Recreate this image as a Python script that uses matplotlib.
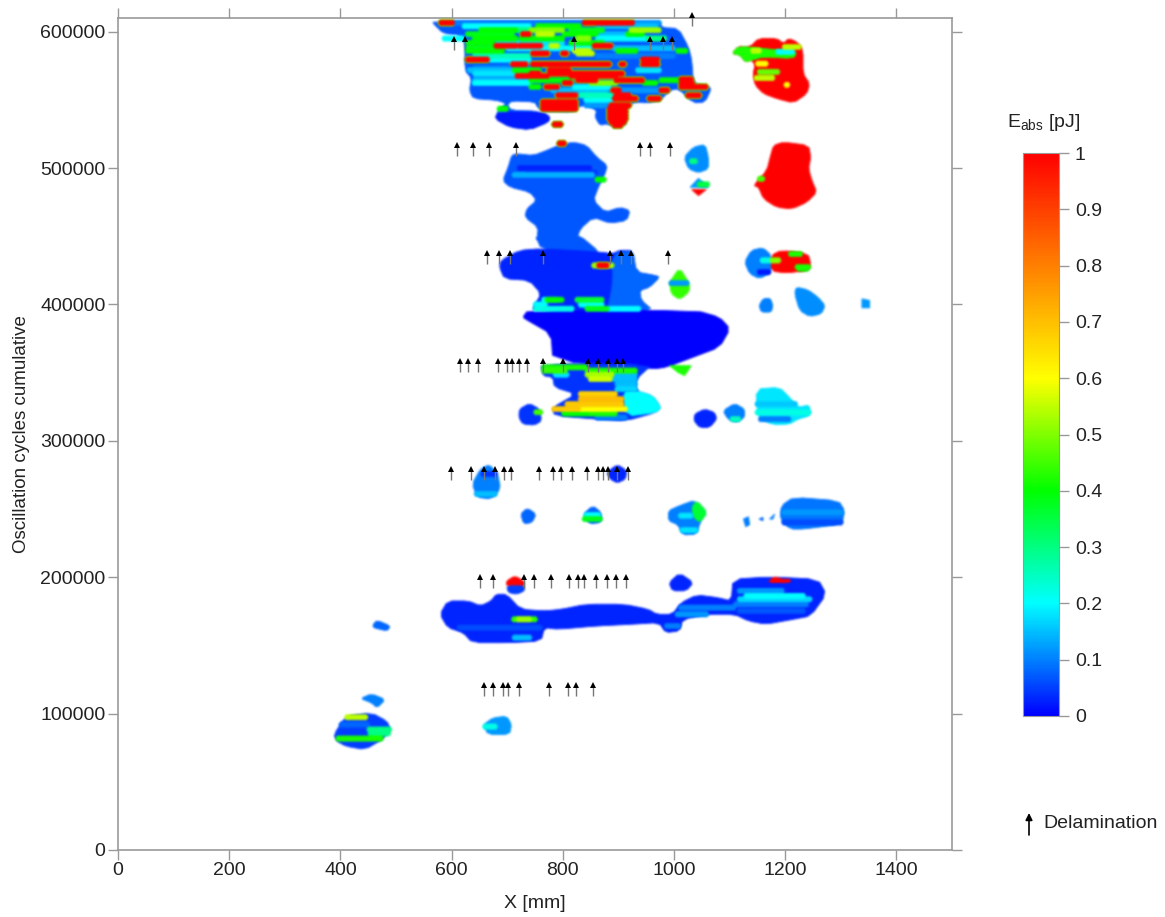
import matplotlib
matplotlib.use('Agg')
import numpy as np
import matplotlib.pyplot as plt
from matplotlib.collections import PolyCollection
from matplotlib.colors import LinearSegmentedColormap, Normalize
from matplotlib.cm import ScalarMappable

plt.rcParams['font.family'] = ['Liberation Sans', 'DejaVu Sans']
plt.rcParams['mathtext.default'] = 'regular'

# delamination arrows: tip level (cycles) and X positions (mm)
arrow_rows = [
    (614400, [1032]),
    (596700, [604, 624, 821, 956, 981, 996]),
    (519000, [609, 638, 667, 716, 938, 956, 992]),
    (439700, [663, 685, 705, 765, 884, 904, 922, 990]),
    (360400, [616, 629, 647, 683, 699, 708, 722, 735, 764, 800, 845, 863, 882, 897, 909]),
    (281900, [599, 634, 658, 678, 694, 706, 757, 782, 796, 816, 843, 863, 873, 881, 897, 918]),
    (202600, [651, 674, 731, 748, 779, 812, 827, 839, 859, 879, 895, 914]),
    (123300, [658, 674, 692, 701, 722, 776, 809, 823, 855]),
]

# damage regions, outline as (X mm, cycles), energy in pJ
top_blob = [(567,607200),(975,607200),(978,603000),(1008,602300),(1026,588800),(1032,579000),(1035,561900),
            (1059,560000),(1067,558200),(1056,548400),(1035,547700),(1008,558200),(993,557000),(975,549600),
            (951,547700),(933,548400),(915,546000),(909,542300),(915,532500),(897,529600),(879,532500),
            (867,531300),(858,537400),(861,542300),(843,546000),(825,544800),(819,541100),(765,541600),
            (754,544800),(750,548400),(708,549200),(700,546000),(708,542300),(753,541800),(777,537400),
            (774,533700),(741,528100),(705,530000),(678,536200),(684,542300),(699,547200),(681,549700),
            (639,550900),(632,557000),(636,565600),(624,571700),(624,591300),(615,597400),(585,598700),(567,606000)]
top_lobe = [(678,536200),(684,541100),(765,541100),(777,537400),(774,533700),(741,528100),(705,530000)]
top_right_red = [(1104,584000),(1116,589300),(1137,588900),(1152,595000),(1185,595000),(1197,591300),(1206,595000),
                 (1221,592500),(1232,586400),(1232,569200),(1244,561900),(1239,554500),(1215,547700),(1185,550900),
                 (1161,554500),(1146,560700),(1142,569200),(1146,575400),(1140,579000),(1128,577800),(1119,582700)]
top_right_spike = [(1104,584000),(1116,589300),(1161,587600),(1221,585200),(1215,580300),(1161,581500),(1140,579000),
                   (1128,577800),(1119,582700)]
upper_mid = [(717,510500),(747,509200),(771,512900),(792,516600),(819,519000),(843,516600),(861,508000),(880,501900),
             (876,495800),(864,486000),(855,476200),(876,467600),(903,471200),(921,468800),(915,461500),(885,459500),
             (855,463900),(831,455300),(825,446800),(830,450700),(866,438400),(866,429850),(761,440900),(752,449450),
             (753,446800),(756,456500),(732,463900),(735,470000),(753,476200),(741,482300),(705,486000),(692,490800),
             (702,500800),(708,509200)]
mid_dark = [(761,440900),(722,439650),(689,432300),(686,427400),(695,418800),(740,417600),(761,407800),(749,399200),
            (746,396000),(962,395550),(941,402900),(938,410250),(956,412700),(974,420000),(965,421300),(932,423700),
            (926,439650),(902,439650),(890,437200),(866,438400)]
mid_light = [(890,437000),(926,439650),(932,423700),(965,421300),(974,420000),(956,412700),(938,410250),(941,402900),
             (962,395550),(880,395550),(890,415000)]
big_core = [(728,390650),(737,395550),(1040,395550),(1082,390650),(1101,382100),(1082,368600),(1034,361250),
            (986,353900),(962,352700),(782,358800),(779,378400),(737,388200)]
lower_mid = [(761,356350),(962,356350),(932,345300),(932,336750),(962,333100),(977,324500),(968,320800),(914,314700),
             (860,315900),(785,318400),(782,324500),(824,334300),(785,339200),(782,346550),(764,347800)]
lower_cyan = [(908,336000),(932,336750),(962,333100),(977,324500),(968,320800),(914,318000)]
right_green = [(992,355100),(1031,355100),(1019,347800),(1007,350200)]
small_e = [(722,323300),(740,327400),(758,323300),(762,314700),(749,311500),(728,312300),(721,317150)]
small_f = [(1037,319600),(1055,323300),(1073,320800),(1077,315900),(1064,309800),(1046,309800),(1036,314700)]
small_g = [(1088,322050),(1109,327400),(1127,323300),(1127,317150),(1112,313500),(1097,315900)]
cyan_h = [(1147,338000),(1190,339200),(1208,331850),(1223,324500),(1244,326450),(1245,318400),(1223,315900),
          (1208,312250),(1178,311750),(1151,317150)]
blob_i = [(1127,431100),(1139,439650),(1160,441600),(1175,436000),(1175,423700),(1154,418800),(1136,422500)]
red_j = [(1175,436000),(1193,439650),(1241,437200),(1246,429850),(1241,424950),(1202,423000),(1175,424450)]
green_k = [(992,416400),(1010,426900),(1028,415150),(1027,409000),(1010,403600),(995,407800)]
small_l = [(1153,399200),(1160,404100),(1173,404600),(1178,399200),(1175,394350),(1157,394350)]
blob_m = [(1217,407800),(1220,412700),(1241,410700),(1259,405350),(1272,399200),(1265,393100),(1244,391100),(1226,395550)]
square_n = [(1338,404100),(1352,402900),(1352,397500),(1338,397500)]
blob_o = [(1035,515400),(1056,517300),(1062,508000),(1062,499400),(1044,496500),(1026,499400),(1018,508000)]
blob_p = [(1044,492500),(1062,485900),(1029,485900)]
red_q = [(1032,484200),(1058,484200),(1044,479800)]
red_r = [(1179,516600),(1197,519000),(1242,516600),(1246,508000),(1242,499400),(1248,490800),(1257,482300),(1239,474900),
         (1212,470000),(1185,471200),(1161,477400),(1152,486000),(1143,487200),(1167,498200),(1173,508000)]
blob_s = [(637,268400),(652,279400),(668,282600),(683,275700),(688,264700),(671,257300),(646,258600)]
blob_t = [(879,276900),(898,282600),(915,278200),(913,272000),(898,269100),(885,272000)]
blob_u = [(724,246300),(736,250700),(752,246300),(745,240200),(730,239000)]
blob_v = [(837,246300),(854,252450),(869,247500),(869,240200),(848,239000)]
blob_w = [(990,248800),(1010,252450),(1038,256600),(1060,247500),(1047,240200),(1041,231600),(1016,230900),(1007,238500),(990,241400)]
green_w = [(1032,251200),(1041,256100),(1060,247500),(1047,240200),(1035,243900)]
fleck_1 = [(1125,242650),(1134,244350),(1136,238500),(1129,237000)]
fleck_2 = [(1153,242650),(1160,243900),(1160,241400)]
fleck_3 = [(1172,242650),(1181,246300),(1178,242650)]
blob_y = [(1193,252450),(1215,258600),(1296,256100),(1307,248800),(1302,238970),(1234,235300),(1209,235300),(1191,242650)]
long_blob = [(579,172800),(593,182600),(630,182600),(652,178950),(671,182600),(680,187500),(699,187500),(724,176500),
             (767,175250),(798,176500),(842,180170),(910,180170),(954,176500),(969,172800),(997,172800),(1013,181400),
             (1041,187000),(1078,185070),(1103,182620),(1106,198550),(1172,200260),(1259,198550),(1274,187500),
             (1246,171600),(1215,169150),(1165,165500),(1134,167900),(1109,172800),(1060,172800),(1016,169150),
             (1010,160570),(985,159350),(973,166700),(923,165470),(861,164250),(792,161800),(767,163000),(761,153200),
             (705,152000),(637,152000),(621,159350),(593,163000)]
red_z = [(699,197300),(714,201000),(731,196800),(731,193650),(699,193650)]
blue_z = [(699,193650),(731,193650),(731,190000),(717,187500),(702,188750)]
blob_aa = [(991,196100),(1010,203000),(1035,196100),(1022,190000),(997,190000)]
red_z2 = [(1168,196100),(1181,200500),(1193,198550),(1209,198550),(1209,196100)]
small_ab = [(459,165470),(466,168400),(490,164250),(484,160570),(459,163000)]
diamond_ac = [(436,111080),(456,114500),(481,110350),(466,104220),(456,107900)]
blob_ad = [(388,84620),(410,98100),(456,100550),(484,94420),(490,88300),(475,80950),(444,73600),(410,76050),(394,79700)]
blob_ae = [(658,92000),(674,96900),(699,98100),(708,92000),(704,84620),(665,84620)]

regions = [
    (top_blob, 0.07), (top_lobe, 0.02), (top_right_red, 1), (top_right_spike, 0.42),
    (upper_mid, 0.07), (mid_dark, 0.03), (mid_light, 0.08), (big_core, 0), (lower_mid, 0.04), (lower_cyan, 0.2), (right_green, 0.42),
    (small_e, 0.04), (small_f, 0.03), (small_g, 0.1), (cyan_h, 0.18), (blob_i, 0.1), (red_j, 1),
    (green_k, 0.44), (small_l, 0.1), (blob_m, 0.11), (square_n, 0.12), (blob_o, 0.11), (blob_p, 0.12),
    (red_q, 1), (red_r, 1), (blob_s, 0.1), (blob_t, 0.03), (blob_u, 0.08), (blob_v, 0.08), (blob_w, 0.1),
    (green_w, 0.36), (fleck_1, 0.1), (fleck_2, 0.08), (fleck_3, 0.1), (blob_y, 0.09), (long_blob, 0.03),
    (red_z, 1), (blue_z, 0.05), (blob_aa, 0.03), (red_z2, 1), (small_ab, 0.08), (diamond_ac, 0.1),
    (blob_ad, 0.05), (blob_ae, 0.12),
]

# streaks inside the regions: cycles, X start, X end, energy
streaks_top = [
    (606500,603,837,.1),(606500,927,975,.12),(601100,717,741,.3),(598200,861,915,.15),(595000,951,985,.3),(587800,627,680,.38),
    (587800,700,850,.2),(587800,890,1000,.15),(582200,640,740,.25),(582200,860,1000,.1),(569200,640,740,.18),(573500,640,760,.1),
    (564400,640,741,.15),(557000,780,880,.15),(553300,830,890,.25),(550000,840,890,.2),(546000,840,880,.12),(557000,900,975,.12),
    (604000,621,741,.2),(604000,753,831,.4),(604000,861,969,.15),(606500,579,603,1),(606500,837,879,1),(606500,879,927,1),
    (601100,651,717,.4),(601100,741,801,.5),(601100,813,873,.38),(601100,921,975,.52),(598200,627,711,.38),(598200,753,783,.55),
    (598200,801,861,.4),(598200,915,945,.4),(598200,726,741,1),(595000,585,621,.2),(595000,639,717,.4),(595000,723,801,.4),
    (595000,825,849,.5),(595000,861,951,.2),(591800,627,675,.4),(591800,681,801,.18),(591800,813,873,.4),(589600,678,717,1),
    (589600,720,762,1),(589600,855,888,1),(589600,777,792,.55),(585900,627,693,.4),(585900,819,849,.55),(585900,897,933,.4),
    (585900,1005,1023,.4),(584000,744,774,1),(584000,798,808,1),(584000,825,855,.55),(579500,627,666,1),(579500,669,741,.2),
    (579500,942,972,1),(576100,708,735,1),(576100,744,885,1),(576100,942,972,1),(576100,903,912,1),(571700,630,711,.15),
    (571700,711,759,.4),(571700,774,813,1),(571700,933,975,.18),(569200,774,909,1),(569200,741,759,1),(567500,716,774,1),
    (567500,813,897,1),(564400,741,813,.4),(564400,825,861,1),(564400,894,945,1),(564400,975,1029,.4),(562400,639,741,.2),
    (562400,801,816,1),(562400,849,897,.5),(562400,945,969,.4),(559500,741,759,.4),(559500,768,792,1),(559500,819,885,.2),
    (559500,1011,1059,1),(557000,888,903,1),(557000,975,990,1),(553300,789,825,1),(553300,894,921,1),(553300,1023,1047,1),
    (550900,891,933,1),(550900,954,975,1),(548400,762,825,1),(546000,762,825,1),(543500,762,825,1),(546000,885,921,1),
    (543500,882,915,1),(541100,882,915,1),(538600,882,915,1),(536200,882,915,1),(533700,885,912,1),(531300,891,906,1),
    (565000,1011,1033,1),(561900,1011,1035,1),(532000,783,798,1),(543500,684,700,.4),
]
streaks_right_top = [
    (588800,1197,1227,.55),(586000,1140,1155,.55),(585200,1185,1215,.2),(576500,1149,1167,.6),(570500,1152,1188,.48),
    (566000,1146,1179,.55),(561000,1200,1206,.6),
]
streaks_mid = [
    (500000,720,850,.03),(496500,735,860,.04),(495000,711,855,.14),(491500,860,876,.4),(518000,792,804,1),(505000,1030,1040,.3),
    (488000,1044,1062,.35),(492100,1152,1161,.45),(428600,854,890,.52),(428600,863,881,1),
    (403400,764,791,.2),(403400,770,800,.4),(403400,824,872,.36),
    (396800,749,818,.22),(396800,842,881,.38),(396800,881,938,.2),(399950,749,770,.2),(399950,830,872,.2),
    (353900,764,842,.42),(351450,764,806,.44),(351450,842,932,.42),(348500,842,890,.53),(348500,890,932,.15),(348500,785,809,.18),
    (345300,848,887,.56),(345300,890,932,.15),(341650,896,932,.15),(338000,896,932,.17),(334300,830,896,.67),
    (330600,830,908,.7),(326950,806,908,.68),(323300,782,830,.68),(323300,830,914,.6),
    (320100,800,848,.4),(320100,848,896,.42),(317150,860,914,.1),(321000,750,762,.45),(315900,1103,1118,.25),
    (320800,1148,1244,.22),(326950,1148,1220,.16),(315900,1154,1208,.1),(423700,1152,1172,.02),
    (437000,1208,1229,.42),(427400,1220,1244,.42),(432300,1175,1190,.5),(426200,1223,1241,.4),(432300,1157,1175,.22),
    (415640,993,1025,.12),
]
streaks_low = [
    (275700,655,680,.04),(261000,643,680,.15),(242650,837,869,.38),(245600,840,866,.2),(234560,1013,1041,.18),(245100,1010,1032,.18),
    (247550,1196,1302,.12),(240200,1196,1302,.06),(183850,1116,1246,.17),(186300,1128,1234,.2),(189970,1116,1196,.12),
    (180170,1109,1240,.1),(175270,1116,1234,.07),(177700,1010,1109,.1),(172800,1004,1060,.12),(164250,985,1010,.1),
    (163000,612,761,.06),(155700,711,742,.15),(169150,710,752,.43),(169150,718,742,.52),(97360,410,447,.55),(88300,450,490,.3),
    (85500,452,488,.3),(81680,394,475,.42),(91960,400,450,.08),(90500,658,680,.22),
]
streaks = streaks_top + streaks_right_top + streaks_mid + streaks_low

cbar_ticks = [0, 0.1, 0.2, 0.3, 0.4, 0.5, 0.6, 0.7, 0.8, 0.9, 1]
cbar_labels = ['0', '0.1', '0.2', '0.3', '0.4', '0.5', '0.6', '0.7', '0.8', '0.9', '1']
x_ticks = [0, 200, 400, 600, 800, 1000, 1200, 1400]
y_ticks = [0, 100000, 200000, 300000, 400000, 500000, 600000]

cmap = LinearSegmentedColormap.from_list('eabs', [(0, '#0000ff'), (0.1, '#0082ff'), (0.2, '#00ffff'), (0.4, '#00ff00'),
                                                  (0.6, '#ffff00'), (0.8, '#ff8000'), (1, '#ff0000')])
norm = Normalize(0, 1)
GREY = '#999999'
TXT = '#222222'


def streak_poly(y, x0, x1, h=2000, dx=3):
    return [(x0 - dx, y), (x0, y + h), (x1, y + h), (x1 + dx, y), (x1, y - h), (x0, y - h)]


def rounded(pts, n=1):
    # corner cutting so the outlines are not angular
    pts = np.array(pts, float)
    if len(pts) < 5:
        return pts
    for _ in range(n):
        nxt = np.roll(pts, -1, axis=0)
        pts = np.column_stack([0.8 * pts + 0.2 * nxt, 0.2 * pts + 0.8 * nxt]).reshape(-1, 2)
    return pts


def soften(img, dpi, pad=3):
    # the scan is slightly out of focus
    img = np.pad(img, ((pad, pad), (pad, pad), (0, 0)))
    img[..., :3] *= img[..., 3:]
    k = np.array([1, 2, 1], float) / 4
    for ax_i in (0, 1):
        img = np.apply_along_axis(lambda v: np.convolve(v, k, mode='same'), ax_i, img)
    a = np.clip(img[..., 3:], 1e-4, 1)
    img[..., :3] = np.clip(img[..., :3] / a, 0, 1)
    return img, -pad, -pad


fig = plt.figure(figsize=(11.65, 9.17), dpi=100)
ax = fig.add_axes([118 / 1165, 1 - 850 / 917, 834 / 1165, 832 / 917])
ax.set_xlim(0, 1500)
ax.set_ylim(0, 610000)

polys = PolyCollection([rounded(r[0]) for r in regions], array=[r[1] for r in regions], cmap=cmap, norm=norm,
                       edgecolors='face', linewidths=0.6, zorder=2)
polys.set_agg_filter(soften)
ax.add_collection(polys)

# hot streaks get a thin green/yellow rim, hottest drawn last
order = sorted(streaks, key=lambda s: s[3])
rims = [streak_poly(s[0], s[1], s[2], h=2600, dx=5) for s in order if s[3] >= 0.8]
rim_vals = [0.48 for s in order if s[3] >= 0.8]
rim_coll = PolyCollection(rims, array=rim_vals, cmap=cmap, norm=norm, edgecolors='none', zorder=3)
rim_coll.set_agg_filter(soften)
ax.add_collection(rim_coll)
bands = PolyCollection([streak_poly(*s[:3]) for s in order], array=[s[3] for s in order], cmap=cmap,
                       norm=norm, edgecolors='face', linewidths=0.3, zorder=4)
bands.set_agg_filter(soften)
ax.add_collection(bands)

for tip, xs in arrow_rows:
    ax.vlines(xs, tip - 10300, tip - 2000, color='#777777', lw=1, zorder=5, clip_on=False)
    ax.plot(xs, [tip - 2200] * len(xs), ls='none', marker='^', ms=5, color='black', mew=0, zorder=6, clip_on=False)

for s in ax.spines.values():
    s.set_color(GREY)
    s.set_linewidth(1.2)
ax.set_xticks(x_ticks)
ax.set_yticks(y_ticks)
ax.tick_params(axis='both', which='both', top=True, right=True, direction='out', length=7.5, width=1,
               color=GREY, labelsize=14, labelcolor=TXT, pad=1.5)
ax.tick_params(axis='x', pad=1)
ax.set_xlabel('X [mm]', fontsize=14, color=TXT, labelpad=12)
ax.set_ylabel('Oscillation cycles cumulative', fontsize=13.5, color=TXT, labelpad=7)

cax = fig.add_axes([1023 / 1165, 1 - 716 / 917, 36 / 1165, 563 / 917])
cb = fig.colorbar(ScalarMappable(norm=norm, cmap=cmap), cax=cax, ticks=cbar_ticks)
cb.ax.set_yticklabels(cbar_labels)
cb.ax.tick_params(length=7.5, width=1, color=GREY, labelsize=14, labelcolor=TXT, pad=4)
cb.outline.set_edgecolor(GREY)
cb.outline.set_linewidth(0.8)

fig.text(1044 / 1165, 1 - 122 / 917, r'E$_{abs}$ [pJ]', fontsize=14, color=TXT, ha='center', va='center')
fig.text(1043 / 1165, 1 - 823 / 917, 'Delamination', fontsize=14, color=TXT, ha='left', va='center')
ax.annotate('', xy=(1029 / 1165, 1 - 813 / 917), xytext=(1029 / 1165, 1 - 835 / 917), xycoords='figure fraction',
            textcoords='figure fraction', arrowprops=dict(arrowstyle='-|>', color='black', lw=1.2, shrinkA=0, shrinkB=0))

fig.savefig('out.png', dpi=100)
